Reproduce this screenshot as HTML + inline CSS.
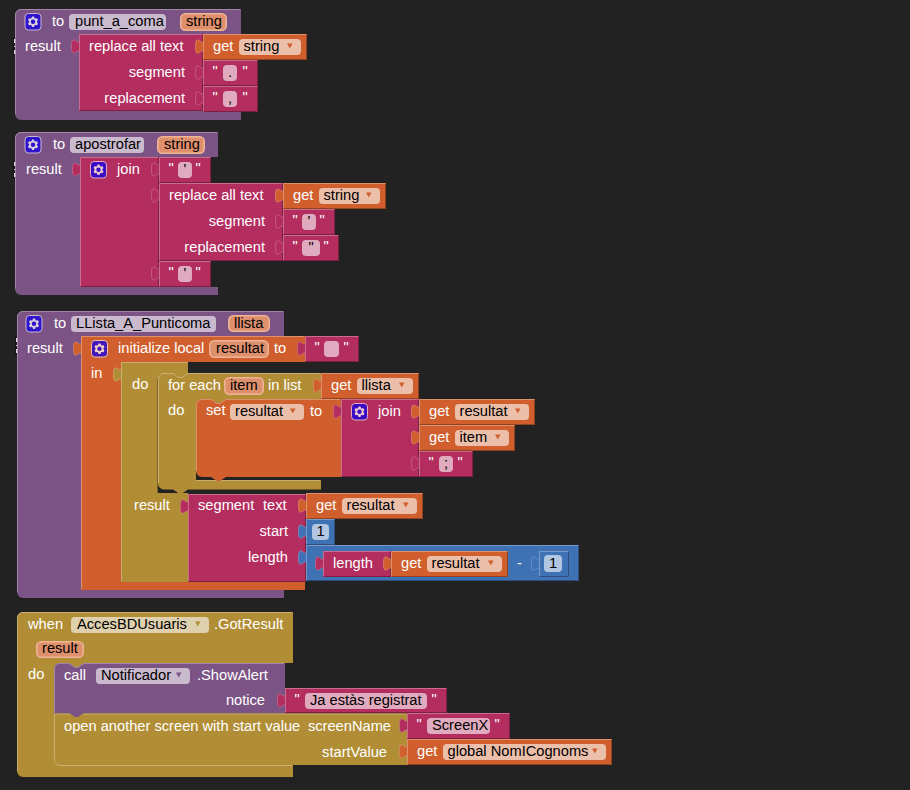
<!DOCTYPE html><html><head><meta charset="utf-8"><style>html,body{margin:0;padding:0;background:#222222;width:910px;height:790px;overflow:hidden}svg{display:block}text{font-family:"Liberation Sans",sans-serif;white-space:pre}</style></head><body>
<svg width="910" height="790" viewBox="0 0 910 790">
<path d="M15 15 a6 6 0 0 1 6 -6 H241 V34 H79 V111 H241 V120 H21 a6 6 0 0 1 -6 -6 Z" fill="#7c5385"/>
<path d="M15.5 114 V15 a5.5 5.5 0 0 1 5.5 -5.5 H240" fill="none" stroke="#a386a9" stroke-width="1"/>
<rect x="25" y="13.5" width="16" height="16.5" rx="3.5" fill="#2e14cd" stroke="#cabace" stroke-width="1"/>
<path d="M31.23 18.50 L32.10 16.53 L33.90 16.53 L34.77 18.50 L34.93 18.59 L37.08 18.36 L37.97 19.91 L36.70 21.66 L36.70 21.84 L37.97 23.59 L37.08 25.14 L34.93 24.91 L34.77 25.00 L33.90 26.97 L32.10 26.97 L31.23 25.00 L31.07 24.91 L28.92 25.14 L28.03 23.59 L29.30 21.84 L29.30 21.66 L28.03 19.91 L28.92 18.36 L31.07 18.59 Z" fill="#dacedc"/>
<circle cx="33" cy="21.75" r="2.2" fill="#2e14cd"/>
<text x="52" y="26" fill="#fff" text-anchor="start" font-size="14.67">to</text>
<rect x="69" y="14" width="97" height="16" rx="4" ry="4" fill="#cabace"/>
<text x="75" y="26" fill="#000" text-anchor="start" font-size="14.67">punt_a_coma</text>
<rect x="180.8" y="13.8" width="45.4" height="16.4" rx="4.5" ry="4.5" fill="#de8f6c" stroke="#eeb496" stroke-width="1.6"/>
<text x="186" y="26" fill="#000" text-anchor="start" font-size="14.67">string</text>
<text x="25" y="51" fill="#fff" text-anchor="start" font-size="14.67">result</text>
<rect x="79" y="34" width="124" height="77" fill="#b32d5e"/>
<path d="M79.5 39 c0 10 -8 -8 -8 7.5 s8 -2.5 8 7.5 Z" fill="#b32d5e"/>
<path d="M79.5 39 c0 10 -8 -8 -8 7.5 s8 -2.5 8 7.5" fill="none" stroke="#c96c8e" stroke-width="0.9" stroke-opacity="0.8"/>
<path d="M80 110.5 H202.5 V35" fill="none" stroke="#7d1f41" stroke-width="1"/>
<path d="M79.5 110 V34.5 H202" fill="none" stroke="#c96c8e" stroke-width="1"/>
<text x="89" y="51" fill="#fff" text-anchor="start" font-size="14.67">replace all text</text>
<text x="185" y="77" fill="#fff" text-anchor="end" font-size="14.67">segment</text>
<text x="185" y="103" fill="#fff" text-anchor="end" font-size="14.67">replacement</text>
<rect x="203" y="34" width="104" height="26" fill="#d05f2d"/>
<path d="M203.5 39 c0 10 -8 -8 -8 7.5 s8 -2.5 8 7.5 Z" fill="#d05f2d"/>
<path d="M203.5 39 c0 10 -8 -8 -8 7.5 s8 -2.5 8 7.5" fill="none" stroke="#de8f6c" stroke-width="0.9" stroke-opacity="0.8"/>
<path d="M204 59.5 H306.5 V35" fill="none" stroke="#91421f" stroke-width="1"/>
<path d="M203.5 59 V34.5 H306" fill="none" stroke="#de8f6c" stroke-width="1"/>
<text x="213" y="51" fill="#fff" text-anchor="start" font-size="14.67">get</text>
<rect x="239" y="39" width="62" height="16" rx="4" ry="4" fill="#ecbfab"/>
<text x="243.5" y="51" fill="#000" text-anchor="start" font-size="14.67">string</text>
<path d="M287 43.5 h5.5 l-2.75 5 Z" fill="#d05f2d"/>
<rect x="203" y="60" width="55" height="26" fill="#b32d5e"/>
<path d="M203.5 65 c0 10 -8 -8 -8 7.5 s8 -2.5 8 7.5 Z" fill="#b32d5e"/>
<path d="M203.5 65 c0 10 -8 -8 -8 7.5 s8 -2.5 8 7.5" fill="none" stroke="#c96c8e" stroke-width="0.9" stroke-opacity="0.8"/>
<path d="M204 85.5 H257.5 V61" fill="none" stroke="#7d1f41" stroke-width="1"/>
<path d="M203.5 85 V60.5 H257" fill="none" stroke="#c96c8e" stroke-width="1"/>
<text x="212.5" y="76" fill="#fff" text-anchor="start" font-size="14.67">"</text>
<text x="242.5" y="76" fill="#fff" text-anchor="start" font-size="14.67">"</text>
<rect x="223" y="65" width="14" height="16" rx="4" ry="4" fill="#e0abbe"/>
<text x="230" y="77" fill="#000" text-anchor="middle" font-size="14.67">.</text>
<rect x="203" y="86" width="55" height="26" fill="#b32d5e"/>
<path d="M203.5 91 c0 10 -8 -8 -8 7.5 s8 -2.5 8 7.5 Z" fill="#b32d5e"/>
<path d="M203.5 91 c0 10 -8 -8 -8 7.5 s8 -2.5 8 7.5" fill="none" stroke="#c96c8e" stroke-width="0.9" stroke-opacity="0.8"/>
<path d="M204 111.5 H257.5 V87" fill="none" stroke="#7d1f41" stroke-width="1"/>
<path d="M203.5 111 V86.5 H257" fill="none" stroke="#c96c8e" stroke-width="1"/>
<text x="212.5" y="102" fill="#fff" text-anchor="start" font-size="14.67">"</text>
<text x="242.5" y="102" fill="#fff" text-anchor="start" font-size="14.67">"</text>
<rect x="223" y="91" width="14" height="16" rx="4" ry="4" fill="#e0abbe"/>
<text x="230" y="103" fill="#000" text-anchor="middle" font-size="14.67">,</text>
<path d="M15 138 a6 6 0 0 1 6 -6 H218 V157 H80 V287 H218 V295 H21 a6 6 0 0 1 -6 -6 Z" fill="#7c5385"/>
<path d="M15.5 289 V138 a5.5 5.5 0 0 1 5.5 -5.5 H217" fill="none" stroke="#a386a9" stroke-width="1"/>
<rect x="25" y="136.5" width="16" height="16.5" rx="3.5" fill="#2e14cd" stroke="#cabace" stroke-width="1"/>
<path d="M31.23 141.50 L32.10 139.53 L33.90 139.53 L34.77 141.50 L34.93 141.59 L37.08 141.36 L37.97 142.91 L36.70 144.66 L36.70 144.84 L37.97 146.59 L37.08 148.14 L34.93 147.91 L34.77 148.00 L33.90 149.97 L32.10 149.97 L31.23 148.00 L31.07 147.91 L28.92 148.14 L28.03 146.59 L29.30 144.84 L29.30 144.66 L28.03 142.91 L28.92 141.36 L31.07 141.59 Z" fill="#dacedc"/>
<circle cx="33" cy="144.75" r="2.2" fill="#2e14cd"/>
<text x="53" y="149" fill="#fff" text-anchor="start" font-size="14.67">to</text>
<rect x="70" y="137" width="74" height="16" rx="4" ry="4" fill="#cabace"/>
<text x="75" y="149" fill="#000" text-anchor="start" font-size="14.67">apostrofar</text>
<rect x="157.8" y="136.8" width="46.4" height="16.4" rx="4.5" ry="4.5" fill="#de8f6c" stroke="#eeb496" stroke-width="1.6"/>
<text x="164" y="149" fill="#000" text-anchor="start" font-size="14.67">string</text>
<text x="26" y="174" fill="#fff" text-anchor="start" font-size="14.67">result</text>
<rect x="80" y="157" width="79" height="130" fill="#b32d5e"/>
<path d="M80.5 162 c0 10 -8 -8 -8 7.5 s8 -2.5 8 7.5 Z" fill="#b32d5e"/>
<path d="M80.5 162 c0 10 -8 -8 -8 7.5 s8 -2.5 8 7.5" fill="none" stroke="#c96c8e" stroke-width="0.9" stroke-opacity="0.8"/>
<path d="M81 286.5 H158.5 V158" fill="none" stroke="#7d1f41" stroke-width="1"/>
<path d="M80.5 286 V157.5 H158" fill="none" stroke="#c96c8e" stroke-width="1"/>
<rect x="90.5" y="161.5" width="16" height="16.5" rx="3.5" fill="#3b0bc4" stroke="#e0abbe" stroke-width="1"/>
<path d="M96.73 166.50 L97.60 164.53 L99.40 164.53 L100.27 166.50 L100.43 166.59 L102.58 166.36 L103.47 167.91 L102.20 169.66 L102.20 169.84 L103.47 171.59 L102.58 173.14 L100.43 172.91 L100.27 173.00 L99.40 174.97 L97.60 174.97 L96.73 173.00 L96.57 172.91 L94.42 173.14 L93.53 171.59 L94.80 169.84 L94.80 169.66 L93.53 167.91 L94.42 166.36 L96.57 166.59 Z" fill="#e9c4d1"/>
<circle cx="98.5" cy="169.75" r="2.2" fill="#3b0bc4"/>
<text x="117" y="174" fill="#fff" text-anchor="start" font-size="14.67">join</text>
<rect x="159" y="157" width="52" height="26" fill="#b32d5e"/>
<path d="M159.5 162 c0 10 -8 -8 -8 7.5 s8 -2.5 8 7.5 Z" fill="#b32d5e"/>
<path d="M159.5 162 c0 10 -8 -8 -8 7.5 s8 -2.5 8 7.5" fill="none" stroke="#c96c8e" stroke-width="0.9" stroke-opacity="0.8"/>
<path d="M160 182.5 H210.5 V158" fill="none" stroke="#7d1f41" stroke-width="1"/>
<path d="M159.5 182 V157.5 H210" fill="none" stroke="#c96c8e" stroke-width="1"/>
<text x="168.5" y="173" fill="#fff" text-anchor="start" font-size="14.67">"</text>
<text x="195.5" y="173" fill="#fff" text-anchor="start" font-size="14.67">"</text>
<rect x="178" y="162" width="14" height="16" rx="4" ry="4" fill="#e0abbe"/>
<text x="185" y="174" fill="#000" text-anchor="middle" font-size="14.67">'</text>
<rect x="159" y="183" width="124" height="78" fill="#b32d5e"/>
<path d="M159.5 188 c0 10 -8 -8 -8 7.5 s8 -2.5 8 7.5 Z" fill="#b32d5e"/>
<path d="M159.5 188 c0 10 -8 -8 -8 7.5 s8 -2.5 8 7.5" fill="none" stroke="#c96c8e" stroke-width="0.9" stroke-opacity="0.8"/>
<path d="M160 260.5 H282.5 V184" fill="none" stroke="#7d1f41" stroke-width="1"/>
<path d="M159.5 260 V183.5 H282" fill="none" stroke="#c96c8e" stroke-width="1"/>
<text x="169" y="200" fill="#fff" text-anchor="start" font-size="14.67">replace all text</text>
<text x="265" y="226" fill="#fff" text-anchor="end" font-size="14.67">segment</text>
<text x="265" y="252" fill="#fff" text-anchor="end" font-size="14.67">replacement</text>
<rect x="283" y="183" width="103" height="26" fill="#d05f2d"/>
<path d="M283.5 188 c0 10 -8 -8 -8 7.5 s8 -2.5 8 7.5 Z" fill="#d05f2d"/>
<path d="M283.5 188 c0 10 -8 -8 -8 7.5 s8 -2.5 8 7.5" fill="none" stroke="#de8f6c" stroke-width="0.9" stroke-opacity="0.8"/>
<path d="M284 208.5 H385.5 V184" fill="none" stroke="#91421f" stroke-width="1"/>
<path d="M283.5 208 V183.5 H385" fill="none" stroke="#de8f6c" stroke-width="1"/>
<text x="293" y="200" fill="#fff" text-anchor="start" font-size="14.67">get</text>
<rect x="319" y="188" width="61" height="16" rx="4" ry="4" fill="#ecbfab"/>
<text x="323.5" y="200" fill="#000" text-anchor="start" font-size="14.67">string</text>
<path d="M366 192.5 h5.5 l-2.75 5 Z" fill="#d05f2d"/>
<rect x="283" y="209" width="52" height="26" fill="#b32d5e"/>
<path d="M283.5 214 c0 10 -8 -8 -8 7.5 s8 -2.5 8 7.5 Z" fill="#b32d5e"/>
<path d="M283.5 214 c0 10 -8 -8 -8 7.5 s8 -2.5 8 7.5" fill="none" stroke="#c96c8e" stroke-width="0.9" stroke-opacity="0.8"/>
<path d="M284 234.5 H334.5 V210" fill="none" stroke="#7d1f41" stroke-width="1"/>
<path d="M283.5 234 V209.5 H334" fill="none" stroke="#c96c8e" stroke-width="1"/>
<text x="292.5" y="225" fill="#fff" text-anchor="start" font-size="14.67">"</text>
<text x="319.5" y="225" fill="#fff" text-anchor="start" font-size="14.67">"</text>
<rect x="302" y="214" width="14" height="16" rx="4" ry="4" fill="#e0abbe"/>
<text x="309" y="226" fill="#000" text-anchor="middle" font-size="14.67">'</text>
<rect x="283" y="235" width="56" height="26" fill="#b32d5e"/>
<path d="M283.5 240 c0 10 -8 -8 -8 7.5 s8 -2.5 8 7.5 Z" fill="#b32d5e"/>
<path d="M283.5 240 c0 10 -8 -8 -8 7.5 s8 -2.5 8 7.5" fill="none" stroke="#c96c8e" stroke-width="0.9" stroke-opacity="0.8"/>
<path d="M284 260.5 H338.5 V236" fill="none" stroke="#7d1f41" stroke-width="1"/>
<path d="M283.5 260 V235.5 H338" fill="none" stroke="#c96c8e" stroke-width="1"/>
<text x="292.5" y="251" fill="#fff" text-anchor="start" font-size="14.67">"</text>
<text x="323.5" y="251" fill="#fff" text-anchor="start" font-size="14.67">"</text>
<rect x="302" y="240" width="18" height="16" rx="4" ry="4" fill="#e0abbe"/>
<text x="311" y="252" fill="#000" text-anchor="middle" font-size="14.67">"</text>
<rect x="159" y="261" width="52" height="26" fill="#b32d5e"/>
<path d="M159.5 266 c0 10 -8 -8 -8 7.5 s8 -2.5 8 7.5 Z" fill="#b32d5e"/>
<path d="M159.5 266 c0 10 -8 -8 -8 7.5 s8 -2.5 8 7.5" fill="none" stroke="#c96c8e" stroke-width="0.9" stroke-opacity="0.8"/>
<path d="M160 286.5 H210.5 V262" fill="none" stroke="#7d1f41" stroke-width="1"/>
<path d="M159.5 286 V261.5 H210" fill="none" stroke="#c96c8e" stroke-width="1"/>
<text x="168.5" y="277" fill="#fff" text-anchor="start" font-size="14.67">"</text>
<text x="195.5" y="277" fill="#fff" text-anchor="start" font-size="14.67">"</text>
<rect x="178" y="266" width="14" height="16" rx="4" ry="4" fill="#e0abbe"/>
<text x="185" y="278" fill="#000" text-anchor="middle" font-size="14.67">'</text>
<path d="M17 317 a6 6 0 0 1 6 -6 H284 V336 H81 V590 H284 V598 H23 a6 6 0 0 1 -6 -6 Z" fill="#7c5385"/>
<path d="M17.5 592 V317 a5.5 5.5 0 0 1 5.5 -5.5 H283" fill="none" stroke="#a386a9" stroke-width="1"/>
<rect x="26" y="315.5" width="16" height="16.5" rx="3.5" fill="#2e14cd" stroke="#cabace" stroke-width="1"/>
<path d="M32.23 320.50 L33.10 318.53 L34.90 318.53 L35.77 320.50 L35.93 320.59 L38.08 320.36 L38.97 321.91 L37.70 323.66 L37.70 323.84 L38.97 325.59 L38.08 327.14 L35.93 326.91 L35.77 327.00 L34.90 328.97 L33.10 328.97 L32.23 327.00 L32.07 326.91 L29.92 327.14 L29.03 325.59 L30.30 323.84 L30.30 323.66 L29.03 321.91 L29.92 320.36 L32.07 320.59 Z" fill="#dacedc"/>
<circle cx="34" cy="323.75" r="2.2" fill="#2e14cd"/>
<text x="54" y="328" fill="#fff" text-anchor="start" font-size="14.67">to</text>
<rect x="71" y="316" width="145" height="16" rx="4" ry="4" fill="#cabace"/>
<text x="76" y="328" fill="#000" text-anchor="start" font-size="14.67">LLista_A_Punticoma</text>
<rect x="228.8" y="315.8" width="40.4" height="15.4" rx="4.5" ry="4.5" fill="#de8f6c" stroke="#eeb496" stroke-width="1.6"/>
<text x="234" y="328" fill="#000" text-anchor="start" font-size="14.67">llista</text>
<text x="27" y="353" fill="#fff" text-anchor="start" font-size="14.67">result</text>
<path d="M81 336 H305 V362 H121 V582 H305 V590 H81 Z" fill="#d05f2d"/>
<path d="M81.5 341 c0 10 -8 -8 -8 7.5 s8 -2.5 8 7.5 Z" fill="#d05f2d"/>
<path d="M81.5 341 c0 10 -8 -8 -8 7.5 s8 -2.5 8 7.5" fill="none" stroke="#de8f6c" stroke-width="0.9" stroke-opacity="0.8"/>
<path d="M81.5 589 V336.5 H304" fill="none" stroke="#de8f6c" stroke-width="1"/>
<rect x="91.5" y="340.5" width="16" height="16.5" rx="3.5" fill="#4317b7" stroke="#ecbfab" stroke-width="1"/>
<path d="M97.73 345.50 L98.60 343.53 L100.40 343.53 L101.27 345.50 L101.43 345.59 L103.58 345.36 L104.47 346.91 L103.20 348.66 L103.20 348.84 L104.47 350.59 L103.58 352.14 L101.43 351.91 L101.27 352.00 L100.40 353.97 L98.60 353.97 L97.73 352.00 L97.57 351.91 L95.42 352.14 L94.53 350.59 L95.80 348.84 L95.80 348.66 L94.53 346.91 L95.42 345.36 L97.57 345.59 Z" fill="#f1d2c4"/>
<circle cx="99.5" cy="348.75" r="2.2" fill="#4317b7"/>
<text x="118" y="353" fill="#fff" text-anchor="start" font-size="14.67">initialize local</text>
<rect x="209.8" y="340.8" width="58.4" height="16.4" rx="4.5" ry="4.5" fill="#de8f6c" stroke="#eeb496" stroke-width="1.6"/>
<text x="216" y="353" fill="#000" text-anchor="start" font-size="14.67">resultat</text>
<text x="274" y="353" fill="#fff" text-anchor="start" font-size="14.67">to</text>
<text x="91" y="378" fill="#fff" text-anchor="start" font-size="14.67">in</text>
<rect x="305" y="336" width="54" height="26" fill="#b32d5e"/>
<path d="M305.5 341 c0 10 -8 -8 -8 7.5 s8 -2.5 8 7.5 Z" fill="#b32d5e"/>
<path d="M305.5 341 c0 10 -8 -8 -8 7.5 s8 -2.5 8 7.5" fill="none" stroke="#c96c8e" stroke-width="0.9" stroke-opacity="0.8"/>
<path d="M306 361.5 H358.5 V337" fill="none" stroke="#7d1f41" stroke-width="1"/>
<path d="M305.5 361 V336.5 H358" fill="none" stroke="#c96c8e" stroke-width="1"/>
<text x="314.5" y="352" fill="#fff" text-anchor="start" font-size="14.67">"</text>
<text x="343.5" y="352" fill="#fff" text-anchor="start" font-size="14.67">"</text>
<rect x="324" y="341" width="15" height="16" rx="4" ry="4" fill="#e0abbe"/>
<path d="M121 362 H188 V379 H158 V493 H188 V582 H121 Z" fill="#b18e35"/>
<path d="M121.5 367 c0 10 -8 -8 -8 7.5 s8 -2.5 8 7.5 Z" fill="#b18e35"/>
<path d="M121.5 367 c0 10 -8 -8 -8 7.5 s8 -2.5 8 7.5" fill="none" stroke="#c8af71" stroke-width="0.9" stroke-opacity="0.8"/>
<path d="M121.5 581 V362.5 H188" fill="none" stroke="#c8af71" stroke-width="1"/>
<path d="M157.5 379 V493" fill="none" stroke="#7b6325" stroke-width="1"/>
<text x="132" y="389" fill="#fff" text-anchor="start" font-size="14.67">do</text>
<text x="134" y="510" fill="#fff" text-anchor="start" font-size="14.67">result</text>
<path d="M158 379 a6 6 0 0 1 6 -6 H173 l6 4 h3 l6 -4 H321 V399 H226 V405 H196 V480 H321 V489.5 H188 l-6 4 h-3 l-6 -4 H164 a6 6 0 0 1 -6 -6 Z" fill="#b18e35"/>
<path d="M158.5 483 V379 a5.5 5.5 0 0 1 5.5 -5.5 H173 l6 4 h3 l6 -4 H320" fill="none" stroke="#c8af71" stroke-width="1"/>
<path d="M196 480.5 H320" fill="none" stroke="#c8af71" stroke-width="1"/>
<text x="168" y="390" fill="#fff" text-anchor="start" font-size="14.67">for each</text>
<rect x="224.8" y="377.8" width="38.4" height="16.4" rx="4.5" ry="4.5" fill="#de8f6c" stroke="#eeb496" stroke-width="1.6"/>
<text x="230" y="390" fill="#000" text-anchor="start" font-size="14.67">item</text>
<text x="268" y="390" fill="#fff" text-anchor="start" font-size="14.67">in list</text>
<text x="168" y="415" fill="#fff" text-anchor="start" font-size="14.67">do</text>
<rect x="321" y="373" width="98" height="26" fill="#d05f2d"/>
<path d="M321.5 378 c0 10 -8 -8 -8 7.5 s8 -2.5 8 7.5 Z" fill="#d05f2d"/>
<path d="M321.5 378 c0 10 -8 -8 -8 7.5 s8 -2.5 8 7.5" fill="none" stroke="#de8f6c" stroke-width="0.9" stroke-opacity="0.8"/>
<path d="M322 398.5 H418.5 V374" fill="none" stroke="#91421f" stroke-width="1"/>
<path d="M321.5 398 V373.5 H418" fill="none" stroke="#de8f6c" stroke-width="1"/>
<text x="331" y="390" fill="#fff" text-anchor="start" font-size="14.67">get</text>
<rect x="357" y="378" width="56" height="16" rx="4" ry="4" fill="#ecbfab"/>
<text x="361.5" y="390" fill="#000" text-anchor="start" font-size="14.67">llista</text>
<path d="M399 382.5 h5.5 l-2.75 5 Z" fill="#d05f2d"/>
<path d="M196 405 a6 6 0 0 1 6 -6 H211 l6 4 h3 l6 -4 H341 V477 H226 l-6 4 h-3 l-6 -4 H202 a6 6 0 0 1 -6 -6 Z" fill="#d05f2d"/>
<path d="M211 398.5 l6 4 h3 l6 -4 Z" fill="#b18e35"/>
<path d="M196.5 471 V405 a5.5 5.5 0 0 1 5.5 -5.5 H211 l6 4 h3 l6 -4 H340" fill="none" stroke="#de8f6c" stroke-width="1"/>
<text x="206" y="415" fill="#fff" text-anchor="start" font-size="14.67">set</text>
<rect x="230" y="404" width="74" height="16" rx="4" ry="4" fill="#ecbfab"/>
<text x="235" y="416" fill="#000" text-anchor="start" font-size="14.67">resultat</text>
<path d="M290 408.5 h5.5 l-2.75 5 Z" fill="#d05f2d"/>
<text x="310" y="416" fill="#fff" text-anchor="start" font-size="14.67">to</text>
<rect x="341" y="399" width="78" height="78" fill="#b32d5e"/>
<path d="M341.5 404 c0 10 -8 -8 -8 7.5 s8 -2.5 8 7.5 Z" fill="#b32d5e"/>
<path d="M341.5 404 c0 10 -8 -8 -8 7.5 s8 -2.5 8 7.5" fill="none" stroke="#c96c8e" stroke-width="0.9" stroke-opacity="0.8"/>
<path d="M342 476.5 H418.5 V400" fill="none" stroke="#7d1f41" stroke-width="1"/>
<path d="M341.5 476 V399.5 H418" fill="none" stroke="#c96c8e" stroke-width="1"/>
<rect x="351.5" y="403.5" width="16" height="16.5" rx="3.5" fill="#3b0bc4" stroke="#e0abbe" stroke-width="1"/>
<path d="M357.73 408.50 L358.60 406.53 L360.40 406.53 L361.27 408.50 L361.43 408.59 L363.58 408.36 L364.47 409.91 L363.20 411.66 L363.20 411.84 L364.47 413.59 L363.58 415.14 L361.43 414.91 L361.27 415.00 L360.40 416.97 L358.60 416.97 L357.73 415.00 L357.57 414.91 L355.42 415.14 L354.53 413.59 L355.80 411.84 L355.80 411.66 L354.53 409.91 L355.42 408.36 L357.57 408.59 Z" fill="#e9c4d1"/>
<circle cx="359.5" cy="411.75" r="2.2" fill="#3b0bc4"/>
<text x="378" y="416" fill="#fff" text-anchor="start" font-size="14.67">join</text>
<rect x="419" y="399" width="116" height="26" fill="#d05f2d"/>
<path d="M419.5 404 c0 10 -8 -8 -8 7.5 s8 -2.5 8 7.5 Z" fill="#d05f2d"/>
<path d="M419.5 404 c0 10 -8 -8 -8 7.5 s8 -2.5 8 7.5" fill="none" stroke="#de8f6c" stroke-width="0.9" stroke-opacity="0.8"/>
<path d="M420 424.5 H534.5 V400" fill="none" stroke="#91421f" stroke-width="1"/>
<path d="M419.5 424 V399.5 H534" fill="none" stroke="#de8f6c" stroke-width="1"/>
<text x="429" y="416" fill="#fff" text-anchor="start" font-size="14.67">get</text>
<rect x="455" y="404" width="74" height="16" rx="4" ry="4" fill="#ecbfab"/>
<text x="459.5" y="416" fill="#000" text-anchor="start" font-size="14.67">resultat</text>
<path d="M515 408.5 h5.5 l-2.75 5 Z" fill="#d05f2d"/>
<rect x="419" y="425" width="96" height="26" fill="#d05f2d"/>
<path d="M419.5 430 c0 10 -8 -8 -8 7.5 s8 -2.5 8 7.5 Z" fill="#d05f2d"/>
<path d="M419.5 430 c0 10 -8 -8 -8 7.5 s8 -2.5 8 7.5" fill="none" stroke="#de8f6c" stroke-width="0.9" stroke-opacity="0.8"/>
<path d="M420 450.5 H514.5 V426" fill="none" stroke="#91421f" stroke-width="1"/>
<path d="M419.5 450 V425.5 H514" fill="none" stroke="#de8f6c" stroke-width="1"/>
<text x="429" y="442" fill="#fff" text-anchor="start" font-size="14.67">get</text>
<rect x="455" y="430" width="54" height="16" rx="4" ry="4" fill="#ecbfab"/>
<text x="459.5" y="442" fill="#000" text-anchor="start" font-size="14.67">item</text>
<path d="M495 434.5 h5.5 l-2.75 5 Z" fill="#d05f2d"/>
<rect x="419" y="451" width="54" height="26" fill="#b32d5e"/>
<path d="M419.5 456 c0 10 -8 -8 -8 7.5 s8 -2.5 8 7.5 Z" fill="#b32d5e"/>
<path d="M419.5 456 c0 10 -8 -8 -8 7.5 s8 -2.5 8 7.5" fill="none" stroke="#c96c8e" stroke-width="0.9" stroke-opacity="0.8"/>
<path d="M420 476.5 H472.5 V452" fill="none" stroke="#7d1f41" stroke-width="1"/>
<path d="M419.5 476 V451.5 H472" fill="none" stroke="#c96c8e" stroke-width="1"/>
<text x="428.5" y="467" fill="#fff" text-anchor="start" font-size="14.67">"</text>
<text x="457.5" y="467" fill="#fff" text-anchor="start" font-size="14.67">"</text>
<rect x="439" y="456" width="14" height="16" rx="4" ry="4" fill="#e0abbe"/>
<text x="446" y="468" fill="#000" text-anchor="middle" font-size="14.67">;</text>
<rect x="188" y="494" width="118" height="88" fill="#b32d5e"/>
<path d="M188.5 499 c0 10 -8 -8 -8 7.5 s8 -2.5 8 7.5 Z" fill="#b32d5e"/>
<path d="M188.5 499 c0 10 -8 -8 -8 7.5 s8 -2.5 8 7.5" fill="none" stroke="#c96c8e" stroke-width="0.9" stroke-opacity="0.8"/>
<path d="M189 581.5 H305.5 V495" fill="none" stroke="#7d1f41" stroke-width="1"/>
<path d="M188.5 581 V494.5 H305" fill="none" stroke="#c96c8e" stroke-width="1"/>
<text x="198" y="510" fill="#fff" text-anchor="start" font-size="14.67">segment</text>
<text x="263" y="510" fill="#fff" text-anchor="start" font-size="14.67">text</text>
<text x="288" y="536" fill="#fff" text-anchor="end" font-size="14.67">start</text>
<text x="288" y="562" fill="#fff" text-anchor="end" font-size="14.67">length</text>
<rect x="306" y="493" width="117" height="26" fill="#d05f2d"/>
<path d="M306.5 498 c0 10 -8 -8 -8 7.5 s8 -2.5 8 7.5 Z" fill="#d05f2d"/>
<path d="M306.5 498 c0 10 -8 -8 -8 7.5 s8 -2.5 8 7.5" fill="none" stroke="#de8f6c" stroke-width="0.9" stroke-opacity="0.8"/>
<path d="M307 518.5 H422.5 V494" fill="none" stroke="#91421f" stroke-width="1"/>
<path d="M306.5 518 V493.5 H422" fill="none" stroke="#de8f6c" stroke-width="1"/>
<text x="316" y="510" fill="#fff" text-anchor="start" font-size="14.67">get</text>
<rect x="342" y="498" width="75" height="16" rx="4" ry="4" fill="#ecbfab"/>
<text x="346.5" y="510" fill="#000" text-anchor="start" font-size="14.67">resultat</text>
<path d="M403 502.5 h5.5 l-2.75 5 Z" fill="#d05f2d"/>
<rect x="306" y="519" width="29" height="26" fill="#3f71b5"/>
<path d="M306.5 524 c0 10 -8 -8 -8 7.5 s8 -2.5 8 7.5 Z" fill="#3f71b5"/>
<path d="M306.5 524 c0 10 -8 -8 -8 7.5 s8 -2.5 8 7.5" fill="none" stroke="#789bcb" stroke-width="0.9" stroke-opacity="0.8"/>
<path d="M307 544.5 H334.5 V520" fill="none" stroke="#2c4f7e" stroke-width="1"/>
<path d="M306.5 544 V519.5 H334" fill="none" stroke="#789bcb" stroke-width="1"/>
<rect x="312" y="524" width="17" height="16" rx="4" ry="4" fill="#b2c6e1"/>
<text x="320.5" y="536" fill="#000" text-anchor="middle" font-size="14.67">1</text>
<rect x="306" y="545" width="273" height="36" fill="#3f71b5"/>
<path d="M306.5 550 c0 10 -8 -8 -8 7.5 s8 -2.5 8 7.5 Z" fill="#3f71b5"/>
<path d="M306.5 550 c0 10 -8 -8 -8 7.5 s8 -2.5 8 7.5" fill="none" stroke="#789bcb" stroke-width="0.9" stroke-opacity="0.8"/>
<path d="M307 580.5 H578.5 V546" fill="none" stroke="#2c4f7e" stroke-width="1"/>
<path d="M306.5 580 V545.5 H578" fill="none" stroke="#789bcb" stroke-width="1"/>
<rect x="323" y="551" width="68" height="26" fill="#b32d5e"/>
<path d="M323.5 556 c0 10 -8 -8 -8 7.5 s8 -2.5 8 7.5 Z" fill="#b32d5e"/>
<path d="M323.5 556 c0 10 -8 -8 -8 7.5 s8 -2.5 8 7.5" fill="none" stroke="#c96c8e" stroke-width="0.9" stroke-opacity="0.8"/>
<path d="M324 576.5 H390.5 V552" fill="none" stroke="#7d1f41" stroke-width="1"/>
<path d="M323.5 576 V551.5 H390" fill="none" stroke="#c96c8e" stroke-width="1"/>
<text x="333" y="568" fill="#fff" text-anchor="start" font-size="14.67">length</text>
<rect x="391" y="551" width="117" height="26" fill="#d05f2d"/>
<path d="M391.5 556 c0 10 -8 -8 -8 7.5 s8 -2.5 8 7.5 Z" fill="#d05f2d"/>
<path d="M391.5 556 c0 10 -8 -8 -8 7.5 s8 -2.5 8 7.5" fill="none" stroke="#de8f6c" stroke-width="0.9" stroke-opacity="0.8"/>
<path d="M392 576.5 H507.5 V552" fill="none" stroke="#91421f" stroke-width="1"/>
<path d="M391.5 576 V551.5 H507" fill="none" stroke="#de8f6c" stroke-width="1"/>
<text x="401" y="568" fill="#fff" text-anchor="start" font-size="14.67">get</text>
<rect x="427" y="556" width="75" height="16" rx="4" ry="4" fill="#ecbfab"/>
<text x="431.5" y="568" fill="#000" text-anchor="start" font-size="14.67">resultat</text>
<path d="M488 560.5 h5.5 l-2.75 5 Z" fill="#d05f2d"/>
<text x="517" y="568" fill="#fff" text-anchor="start" font-size="14.67">-</text>
<rect x="539" y="551" width="30" height="26" fill="#3f71b5"/>
<path d="M539.5 556 c0 10 -8 -8 -8 7.5 s8 -2.5 8 7.5 Z" fill="#3f71b5"/>
<path d="M539.5 556 c0 10 -8 -8 -8 7.5 s8 -2.5 8 7.5" fill="none" stroke="#789bcb" stroke-width="0.9" stroke-opacity="0.8"/>
<path d="M540 576.5 H568.5 V552" fill="none" stroke="#2c4f7e" stroke-width="1"/>
<path d="M539.5 576 V551.5 H568" fill="none" stroke="#789bcb" stroke-width="1"/>
<rect x="544" y="555" width="18" height="17" rx="4" ry="4" fill="#b2c6e1"/>
<text x="553" y="568" fill="#000" text-anchor="middle" font-size="14.67">1</text>
<path d="M17 618 a6 6 0 0 1 6 -6 H293 V663 H84 V669 H54 V759 H60 V765 H293 V777 H23 a6 6 0 0 1 -6 -6 Z" fill="#b18e35"/>
<path d="M17.5 771 V618 a5.5 5.5 0 0 1 5.5 -5.5 H292" fill="none" stroke="#c8af71" stroke-width="1"/>
<text x="28" y="629" fill="#fff" text-anchor="start" font-size="14.67">when</text>
<rect x="71" y="617" width="138" height="16" rx="4" ry="4" fill="#dfd1ae"/>
<text x="77" y="629" fill="#000" text-anchor="start" font-size="14.67">AccesBDUsuaris</text>
<path d="M195 621.5 h5.5 l-2.75 5 Z" fill="#b18e35"/>
<text x="214" y="629" fill="#fff" text-anchor="start" font-size="14.67">.GotResult</text>
<rect x="36.8" y="641.8" width="46.4" height="15.4" rx="4.5" ry="4.5" fill="#de8f6c" stroke="#eeb496" stroke-width="1.6"/>
<text x="42" y="653" fill="#000" text-anchor="start" font-size="14.67">result</text>
<text x="28" y="679" fill="#fff" text-anchor="start" font-size="14.67">do</text>
<path d="M54 669 a6 6 0 0 1 6 -6 H69 l6 4 h3 l6 -4 H285 V713.5 H54 Z" fill="#7c5385"/>
<path d="M69 662.5 l6 4 h3 l6 -4 Z" fill="#b18e35"/>
<path d="M54.5 713 V669 a5.5 5.5 0 0 1 5.5 -5.5 H69 l6 4 h3 l6 -4 H284" fill="none" stroke="#a386a9" stroke-width="1"/>
<text x="64" y="680" fill="#fff" text-anchor="start" font-size="14.67">call</text>
<rect x="96" y="668" width="94" height="16" rx="4" ry="4" fill="#cabace"/>
<text x="101" y="680" fill="#000" text-anchor="start" font-size="14.67">Notificador</text>
<path d="M176 672.5 h5.5 l-2.75 5 Z" fill="#7c5385"/>
<text x="197" y="680" fill="#fff" text-anchor="start" font-size="14.67">.ShowAlert</text>
<text x="265" y="705" fill="#fff" text-anchor="end" font-size="14.67">notice</text>
<path d="M54 713.5 H407 V765 H60 a6 6 0 0 1 -6 -6 Z" fill="#b18e35"/>
<path d="M54.5 759 V714 H406" fill="none" stroke="#c8af71" stroke-width="1"/>
<path d="M54.5 759 a6 6 0 0 0 6 6.5 H292" fill="none" stroke="#c8af71" stroke-width="1"/>
<path d="M69 713 l6 4 h3 l6 -4 Z" fill="#7c5385"/>
<text x="64" y="731" fill="#fff" text-anchor="start" font-size="14.67">open another screen with start value</text>
<text x="391" y="731" fill="#fff" text-anchor="end" font-size="14.67">screenName</text>
<text x="387" y="757" fill="#fff" text-anchor="end" font-size="14.67">startValue</text>
<rect x="285" y="688" width="162" height="25" fill="#b32d5e"/>
<path d="M285.5 693 c0 10 -8 -8 -8 7.5 s8 -2.5 8 7.5 Z" fill="#b32d5e"/>
<path d="M285.5 693 c0 10 -8 -8 -8 7.5 s8 -2.5 8 7.5" fill="none" stroke="#c96c8e" stroke-width="0.9" stroke-opacity="0.8"/>
<path d="M286 712.5 H446.5 V689" fill="none" stroke="#7d1f41" stroke-width="1"/>
<path d="M285.5 712 V688.5 H446" fill="none" stroke="#c96c8e" stroke-width="1"/>
<text x="294.5" y="704" fill="#fff" text-anchor="start" font-size="14.67">"</text>
<text x="431.5" y="704" fill="#fff" text-anchor="start" font-size="14.67">"</text>
<rect x="305" y="693" width="122" height="16" rx="4" ry="4" fill="#e0abbe"/>
<text x="310" y="705" fill="#000" text-anchor="start" font-size="14.67">Ja estàs registrat</text>
<rect x="407" y="713" width="103" height="26" fill="#b32d5e"/>
<path d="M407.5 718 c0 10 -8 -8 -8 7.5 s8 -2.5 8 7.5 Z" fill="#b32d5e"/>
<path d="M407.5 718 c0 10 -8 -8 -8 7.5 s8 -2.5 8 7.5" fill="none" stroke="#c96c8e" stroke-width="0.9" stroke-opacity="0.8"/>
<path d="M408 738.5 H509.5 V714" fill="none" stroke="#7d1f41" stroke-width="1"/>
<path d="M407.5 738 V713.5 H509" fill="none" stroke="#c96c8e" stroke-width="1"/>
<text x="416.5" y="729" fill="#fff" text-anchor="start" font-size="14.67">"</text>
<text x="494.5" y="729" fill="#fff" text-anchor="start" font-size="14.67">"</text>
<rect x="427" y="718" width="63" height="16" rx="4" ry="4" fill="#e0abbe"/>
<text x="432" y="730" fill="#000" text-anchor="start" font-size="14.67">ScreenX</text>
<rect x="407" y="739" width="205" height="26" fill="#d05f2d"/>
<path d="M407.5 744 c0 10 -8 -8 -8 7.5 s8 -2.5 8 7.5 Z" fill="#d05f2d"/>
<path d="M407.5 744 c0 10 -8 -8 -8 7.5 s8 -2.5 8 7.5" fill="none" stroke="#de8f6c" stroke-width="0.9" stroke-opacity="0.8"/>
<path d="M408 764.5 H611.5 V740" fill="none" stroke="#91421f" stroke-width="1"/>
<path d="M407.5 764 V739.5 H611" fill="none" stroke="#de8f6c" stroke-width="1"/>
<text x="417" y="756" fill="#fff" text-anchor="start" font-size="14.67">get</text>
<rect x="443" y="744" width="163" height="16" rx="4" ry="4" fill="#ecbfab"/>
<text x="447.5" y="756" fill="#000" text-anchor="start" font-size="14.67">global NomICognoms</text>
<path d="M592 748.5 h5.5 l-2.75 5 Z" fill="#d05f2d"/>
<path d="M13 38 h2 v17 h-2 Z" fill="#111"/>
<rect x="14" y="39" width="1.2" height="4" fill="#e8d8e8"/>
<rect x="14" y="46" width="1.2" height="1" fill="#e8d8e8"/>
<rect x="14" y="50" width="1.2" height="4" fill="#e8d8e8"/>
<path d="M13 161 h2 v17 h-2 Z" fill="#111"/>
<rect x="14" y="162" width="1.2" height="4" fill="#e8d8e8"/>
<rect x="14" y="169" width="1.2" height="1" fill="#e8d8e8"/>
<rect x="14" y="173" width="1.2" height="4" fill="#e8d8e8"/>
<path d="M15 337 h2 v17 h-2 Z" fill="#111"/>
<rect x="16" y="338" width="1.2" height="4" fill="#e8d8e8"/>
<rect x="16" y="345" width="1.2" height="1" fill="#e8d8e8"/>
<rect x="16" y="349" width="1.2" height="4" fill="#e8d8e8"/>
</svg></body></html>
